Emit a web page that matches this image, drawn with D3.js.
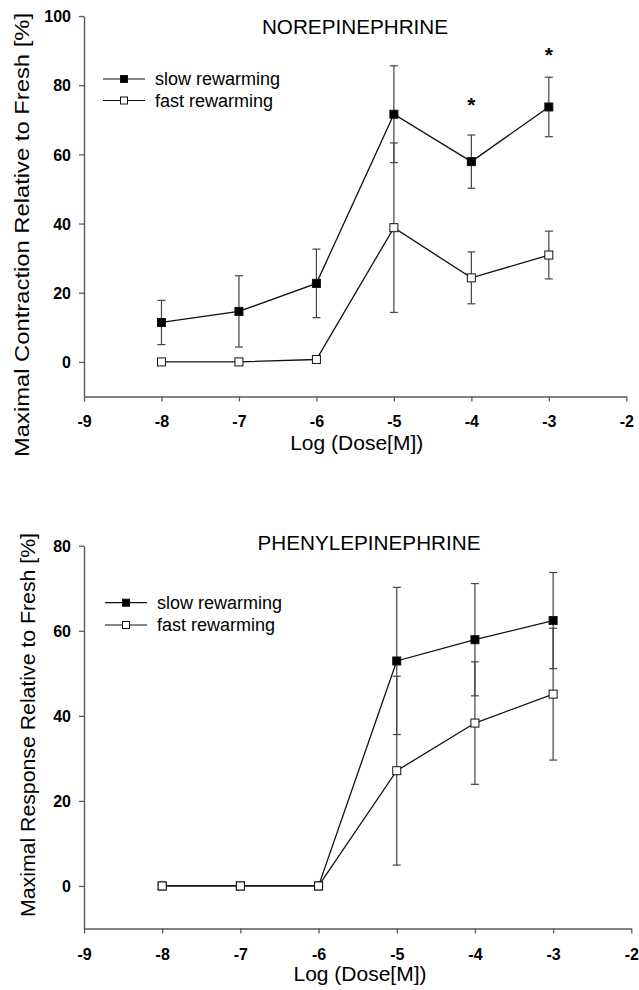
<!DOCTYPE html>
<html>
<head>
<meta charset="utf-8">
<script src="https://cdn.jsdelivr.net/npm/d3@7"></script>
<style>
  html, body { margin: 0; padding: 0; background: #fff; }
  svg { display: block; }
  text { font-family: Arial, "Liberation Sans", sans-serif; fill: #000; }
</style>
</head>
<body>
<svg id="chart" width="639" height="990"></svg>
<script>
// ---------- data ----------
const doses = [-8, -7, -6, -5, -4, -3];
const xTicks = [-9, -8, -7, -6, -5, -4, -3, -2];

// Norepinephrine
const neSlow    = [11.4, 14.6, 22.7, 71.6, 57.9, 73.7];
const neSlowErr = [6.4, 10.3, 9.9, 14.0, 7.7, 8.6];
const neFast    = [0, 0, 0.7, 38.8, 24.3, 30.9];
const neFastErr = [0, 0, 0, 24.5, 7.5, 6.9];
const neYTicks  = [0, 20, 40, 60, 80, 100];
const neSig     = [{dose: -4, y: 75.2}, {dose: -3, y: 89.6}];

// Phenylepinephrine
const peSlow    = [0, 0, 0, 52.9, 57.9, 62.4];
const peSlowErr = [0, 0, 0, 17.3, 13.2, 11.3];
const peFast    = [0, 0, 0, 27.1, 38.3, 45.1];
const peFastErr = [0, 0, 0, 22.2, 14.4, 15.5];
const peYTicks  = [0, 20, 40, 60, 80];

const seriesNames = ["slow rewarming", "fast rewarming"];

// ---------- drawing ----------
const svg = d3.select("#chart");
const fmt = d => String(d);

function panel(cfg) {
  const g = svg.append("g");
  const x = d3.scaleLinear().domain([-9, -2]).range([cfg.x0, cfg.x1]);
  const y = d3.scaleLinear().domain(cfg.yDomain).range([cfg.yBottom, cfg.yTop]);

  // axes
  const ya = g.append("g").attr("transform", `translate(${cfg.x0},0)`)
    .call(d3.axisLeft(y).tickValues(cfg.yTicks).tickSize(5).tickSizeOuter(0).tickFormat(fmt));
  const xa = g.append("g").attr("transform", `translate(0,${cfg.yBottom})`)
    .call(d3.axisBottom(x).tickValues(xTicks).tickSize(5).tickSizeOuter(0).tickFormat(fmt));
  [ya, xa].forEach(a => {
    a.attr("font-size", null).attr("font-family", null);
    a.select(".domain").attr("stroke", "#5a5a5a").attr("stroke-width", 1.4);
    a.selectAll(".tick line").attr("stroke", "#5a5a5a").attr("stroke-width", 1.3);
    a.selectAll(".tick text").style("font-size", "16px").style("font-weight", "bold")
      .style("font-family", "Arial, 'Liberation Sans', sans-serif").attr("fill", "#000");
  });
  ya.selectAll(".tick text").attr("x", -13).attr("dy", "0.36em");
  xa.selectAll(".tick text").attr("y", cfg.xLabelOff).attr("dy", 0);

  // titles
  g.append("text").attr("x", cfg.titleX).attr("y", cfg.titleY)
    .attr("text-anchor", "middle").attr("font-size", "20.7px").text(cfg.title);
  g.append("text").attr("x", cfg.xTitleX).attr("y", cfg.xTitleY)
    .attr("text-anchor", "middle").attr("font-size", "21px").text("Log (Dose[M])");
  g.append("text")
    .attr("transform", `translate(${cfg.yTitleX},${cfg.yTitleY}) rotate(-90)`)
    .attr("text-anchor", "middle").attr("dy", "0.36em")
    .attr("font-size", "21px")
    .attr("textLength", cfg.yTitleLen).attr("lengthAdjust", "spacingAndGlyphs")
    .text(cfg.yTitle);

  const series = [
    {vals: cfg.slow, err: cfg.slowErr, fill: "#000"},
    {vals: cfg.fast, err: cfg.fastErr, fill: "#fff"}
  ];
  const line = d3.line().x((d, i) => x(doses[i])).y(d => y(d));

  // error bars
  series.forEach(s => {
    const eb = g.append("g");
    s.vals.forEach((v, i) => {
      const e = s.err[i];
      if (!e) return;
      const cx = x(doses[i]);
      eb.append("line").attr("x1", cx).attr("x2", cx).attr("y1", y(v - e)).attr("y2", y(v + e))
        .attr("stroke", "#444").attr("stroke-width", 1.2);
      [v - e, v + e].forEach(t => {
        eb.append("line").attr("x1", cx - 4).attr("x2", cx + 4).attr("y1", y(t)).attr("y2", y(t))
          .attr("stroke", "#444").attr("stroke-width", 1.2);
      });
    });
  });
  // lines
  series.forEach(s => {
    g.append("path").attr("d", line(s.vals)).attr("fill", "none")
      .attr("stroke", "#111").attr("stroke-width", 1.3);
  });
  // markers
  const ms = 8;
  series.forEach(s => {
    g.selectAll(null).data(s.vals).enter().append("rect")
      .attr("x", (d, i) => x(doses[i]) - ms / 2).attr("y", d => y(d) - ms / 2)
      .attr("width", ms).attr("height", ms)
      .attr("fill", s.fill).attr("stroke", "#111").attr("stroke-width", 1);
  });

  // significance marks
  (cfg.sig || []).forEach(m => {
    g.append("text").attr("x", x(m.dose)).attr("y", y(m.y) + 10)
      .attr("text-anchor", "middle").attr("font-size", "21px").attr("font-weight", "bold")
      .text("*");
  });

  // legend
  series.forEach((s, i) => {
    const ly = cfg.legY + i * cfg.legGap;
    g.append("line").attr("x1", cfg.legX).attr("x2", cfg.legX + 42).attr("y1", ly).attr("y2", ly)
      .attr("stroke", "#111").attr("stroke-width", 1.2);
    g.append("rect").attr("x", cfg.legX + 21 - 3.5).attr("y", ly - 3.5).attr("width", 7).attr("height", 7)
      .attr("fill", s.fill).attr("stroke", "#111").attr("stroke-width", 1);
    g.append("text").attr("x", cfg.legX + 52).attr("y", ly).attr("dy", "0.35em")
      .attr("font-size", "18px").text(seriesNames[i]);
  });
}

panel({
  x0: 84, x1: 626.3, yTop: 16, yBottom: 396.5, yDomain: [-10, 100], yTicks: neYTicks,
  xLabelOff: 30,
  title: "NOREPINEPHRINE", titleX: 355, titleY: 34.3,
  xTitleX: 356.7, xTitleY: 450,
  yTitle: "Maximal Contraction Relative to Fresh [%]", yTitleX: 21.5, yTitleY: 235, yTitleLen: 444,
  slow: neSlow, slowErr: neSlowErr, fast: neFast, fastErr: neFastErr, sig: neSig,
  legX: 103, legY: 79, legGap: 21.5
});

panel({
  x0: 84, x1: 631.3, yTop: 545.7, yBottom: 928.5, yDomain: [-10, 80], yTicks: peYTicks,
  xLabelOff: 31.5,
  title: "PHENYLEPINEPHRINE", titleX: 369, titleY: 550,
  xTitleX: 360, xTitleY: 981,
  yTitle: "Maximal Response Relative to Fresh [%]", yTitleX: 27, yTitleY: 725, yTitleLen: 384,
  slow: peSlow, slowErr: peSlowErr, fast: peFast, fastErr: peFastErr, sig: [],
  legX: 105, legY: 602.7, legGap: 22.3
});
</script>
</body>
</html>
